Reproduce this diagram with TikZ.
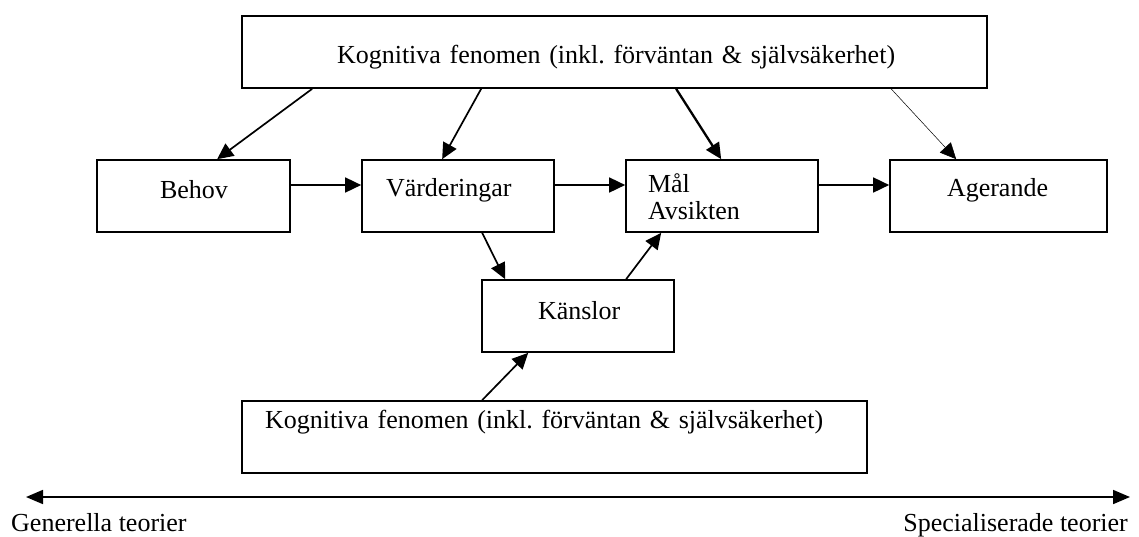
\documentclass[tikz,border=0pt]{standalone}
\usepackage{fontspec}
\setmainfont{Liberation Serif}
\usetikzlibrary{arrows.meta}
\frenchspacing
\tikzset{
  box/.style={draw, line width=1.7pt, rectangle, inner sep=0pt, minimum height=72pt,
    align=left, font=\fontsize{26}{27}\selectfont},
  conn/.style={line width=1.7pt, -{Triangle[length=16pt,width=15pt]}},
  lbl/.style={inner sep=0pt, font=\fontsize{26}{27}\selectfont}
}
\begin{document}
\begin{tikzpicture}[x=1pt,y=-1pt]
\useasboundingbox (0,0) rectangle (1139,536);
% boxes
\node[box, minimum width=745pt, text width=745pt, text height=22pt, text depth=0pt] (top) at (614.5,52) {\hspace*{95pt}Kognitiva fenomen (inkl. förväntan \& självsäkerhet)};
\node[box, minimum width=193pt, text width=193pt, text height=4pt, text depth=0pt] (behov) at (193.5,196) {\hspace*{63pt}Behov};
\node[box, minimum width=192pt, text width=192pt, text height=0pt, text depth=0pt] (vard) at (458,196) {\hspace*{24pt}Värderingar};
\node[box, minimum width=192pt, text width=192pt, text height=0pt, text depth=7pt] (mal) at (722,196) {\hspace*{22pt}Mål\\\hspace*{22pt}Avsikten};
\node[box, minimum width=217pt, text width=217pt, text height=1pt, text depth=0pt] (ager) at (998.5,196) {\hspace*{57pt}Agerande};
\node[box, minimum width=192pt, text width=192pt, text height=6pt, text depth=0pt] (kansl) at (578,316) {\hspace*{56pt}Känslor};
\node[box, minimum width=625pt, text width=625pt, text height=0pt, text depth=18pt] (bot) at (554.5,437) {\hspace*{23pt}Kognitiva fenomen (inkl. förväntan \& självsäkerhet)};
% connectors from the top box
\draw[conn] ([xshift=71pt]top.south west) -- ([xshift=121pt]behov.north west);
\draw[conn] ([xshift=240pt]top.south west) -- ([xshift=81pt]vard.north west);
\draw[conn, line width=2.3pt] ([xshift=435pt]top.south west) -- ([xshift=96pt]mal.north west);
\draw[conn, line width=0.5pt] ([xshift=650pt]top.south west) -- ([xshift=67pt]ager.north west);
% horizontal chain
\draw[conn] ([yshift=11pt]behov.east) -- ([yshift=11pt]vard.west);
\draw[conn] ([yshift=11pt]vard.east) -- ([yshift=11pt]mal.west);
\draw[conn] ([yshift=11pt]mal.east) -- ([yshift=11pt]ager.west);
% feelings
\draw[conn] ([xshift=121pt]vard.south west) -- ([xshift=24pt]kansl.north west);
\draw[conn] ([xshift=145pt]kansl.north west) -- ([xshift=36pt]mal.south west);
\draw[conn] ([xshift=241pt]bot.north west) -- ([xshift=47pt]kansl.south west);
% scale
\coordinate (gl) at (26,497);
\coordinate (gr) at (1130,497);
\draw[line width=1.7pt, {Triangle[length=17pt,width=14pt]}-{Triangle[length=17pt,width=14pt]}] (gl) -- (gr);
\node[lbl, anchor=base west] (gen) at (11,531) {Generella teorier};
\node[lbl, anchor=base east] (spec) at (1128,531) {Specialiserade teorier};
\end{tikzpicture}
\end{document}
